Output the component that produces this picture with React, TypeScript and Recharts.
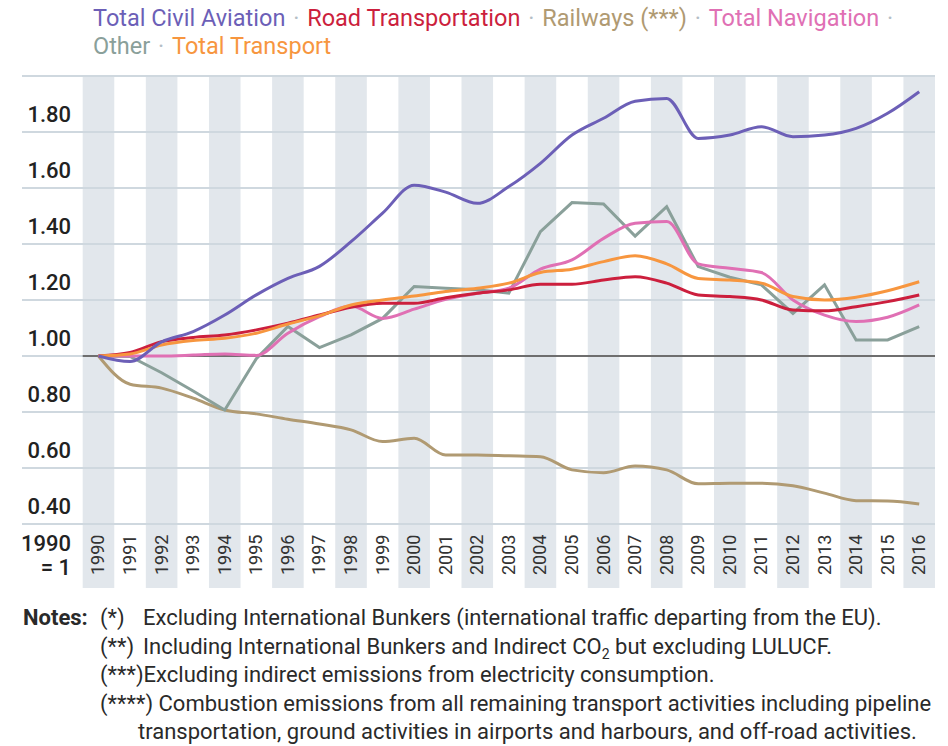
import { LineChart, Line, XAxis, YAxis, ReferenceArea, ReferenceLine } from 'recharts';

const years = [
  1990, 1991, 1992, 1993, 1994, 1995, 1996, 1997, 1998, 1999, 2000, 2001, 2002, 2003,
  2004, 2005, 2006, 2007, 2008, 2009, 2010, 2011, 2012, 2013, 2014, 2015, 2016,
];
const shadedYears = [1990, 1992, 1994, 1996, 1998, 2000, 2002, 2004, 2006, 2008, 2010, 2012, 2014, 2016];
const valueTicks = [0.4, 0.6, 0.8, 1.0, 1.2, 1.4, 1.6, 1.8];
const gridValues = [0.4, 0.6, 0.8, 1.0, 1.2, 1.4, 1.6, 1.8, 2.0];

const aviation = [1.0, 0.98, 1.05, 1.087, 1.146, 1.218, 1.277, 1.32, 1.408, 1.51, 1.61, 1.585, 1.545, 1.605, 1.688, 1.789, 1.849, 1.91, 1.92, 1.777, 1.789, 1.819, 1.783, 1.789, 1.813, 1.867, 1.944];
const road = [1.0, 1.012, 1.051, 1.066, 1.075, 1.093, 1.117, 1.146, 1.174, 1.188, 1.188, 1.208, 1.224, 1.236, 1.256, 1.256, 1.271, 1.283, 1.26, 1.218, 1.212, 1.2, 1.164, 1.161, 1.176, 1.194, 1.218];
const railways = [1.0, 0.899, 0.885, 0.849, 0.807, 0.793, 0.774, 0.757, 0.736, 0.694, 0.706, 0.646, 0.646, 0.643, 0.64, 0.593, 0.583, 0.607, 0.593, 0.543, 0.545, 0.545, 0.536, 0.51, 0.483, 0.482, 0.471];
const navigation = [1.0, 1.0, 1.0, 1.003, 1.007, 1.002, 1.081, 1.14, 1.178, 1.134, 1.167, 1.202, 1.224, 1.242, 1.31, 1.343, 1.42, 1.474, 1.48, 1.329, 1.313, 1.298, 1.2, 1.146, 1.123, 1.138, 1.182];
const other = [1.0, 0.998, 0.94, 0.875, 0.807, 0.99, 1.105, 1.03, 1.075, 1.134, 1.248, 1.242, 1.236, 1.224, 1.444, 1.548, 1.543, 1.428, 1.533, 1.319, 1.281, 1.254, 1.152, 1.254, 1.057, 1.057, 1.105];
const transport = [1.0, 1.007, 1.039, 1.055, 1.063, 1.081, 1.114, 1.143, 1.182, 1.2, 1.214, 1.23, 1.242, 1.26, 1.298, 1.31, 1.337, 1.358, 1.329, 1.277, 1.271, 1.26, 1.212, 1.2, 1.21, 1.233, 1.265];

const rows = years.map((year, i) => ({
  year,
  aviation: aviation[i],
  road: road[i],
  railways: railways[i],
  navigation: navigation[i],
  other: other[i],
  transport: transport[i],
}));

const COLORS = {
  aviation: '#6c5fb7',
  road: '#cc1f3d',
  railways: '#b09a72',
  navigation: '#e070b4',
  other: '#8aa09a',
  transport: '#f7963f',
};

const FONT = 'Roboto, "Open Sans", sans-serif';

function ValueTick({ x, y, payload }: any) {
  return (
    <text x={x + 49} y={y - 10} textAnchor="end" fontSize={22} fontWeight={500} fill="#222" fontFamily={FONT}>
      {Number(payload.value).toFixed(2)}
    </text>
  );
}

function YearTick({ x, y, payload }: any) {
  return (
    <text
      transform={`translate(${x + 6}, ${y - 13}) rotate(-90)`}
      textAnchor="start"
      fontSize={18}
      fill="#333"
      fontFamily={FONT}
    >
      {payload.value}
    </text>
  );
}

const sep = <span style={{ color: '#b4bec6', padding: '0 2px' }}> · </span>;

export default function App() {
  return (
    <div style={{ position: 'absolute', left: 0, top: 0, width: 948, height: 746, background: '#fff', fontFamily: FONT }}>
      <div style={{ position: 'absolute', left: 93, top: 4, fontSize: 23.5, lineHeight: '28px', whiteSpace: 'nowrap' }}>
        <div>
          <span style={{ color: COLORS.aviation }}>Total Civil Aviation</span>
          {sep}
          <span style={{ color: COLORS.road }}>Road Transportation</span>
          {sep}
          <span style={{ color: COLORS.railways }}>Railways (***)</span>
          {sep}
          <span style={{ color: COLORS.navigation }}>Total Navigation</span>
          {sep}
        </div>
        <div>
          <span style={{ color: COLORS.other }}>Other</span>
          {sep}
          <span style={{ color: COLORS.transport }}>Total Transport</span>
        </div>
      </div>

      <LineChart width={948} height={746} data={rows} margin={{ top: 76, right: 13, bottom: 157, left: 21 }}>
        <XAxis
          dataKey="year"
          type="number"
          domain={[1987.577, 2016.5]}
          ticks={years}
          interval={0}
          height={1}
          tickSize={0}
          tickMargin={0}
          axisLine={false}
          tickLine={false}
          tick={(props: any) => <YearTick {...props} />}
        />
        <YAxis
          type="number"
          domain={[0.171, 2.0]}
          ticks={valueTicks}
          interval={0}
          width={1}
          tickSize={0}
          tickMargin={0}
          axisLine={false}
          tickLine={false}
          tick={(props: any) => <ValueTick {...props} />}
        />
        {shadedYears.map((yr) => (
          <ReferenceArea key={yr} x1={yr - 0.5} x2={yr + 0.5} fill="#e2e7ec" fillOpacity={1} stroke="none" />
        ))}
        {gridValues.map((v) => (
          <ReferenceLine key={v} y={v} stroke="#cfd8df" strokeWidth={2} />
        ))}
        <ReferenceLine
          segment={[
            { x: 1989.5, y: 1 },
            { x: 2016.5, y: 1 },
          ]}
          stroke="#6e6e6e"
          strokeWidth={2}
        />
        <Line type="monotone" dataKey="railways" stroke={COLORS.railways} strokeWidth={3} dot={false} isAnimationActive={false} />
        <Line type="linear" dataKey="other" stroke={COLORS.other} strokeWidth={3} dot={false} isAnimationActive={false} />
        <Line type="monotone" dataKey="navigation" stroke={COLORS.navigation} strokeWidth={3} dot={false} isAnimationActive={false} />
        <Line type="monotone" dataKey="road" stroke={COLORS.road} strokeWidth={3} dot={false} isAnimationActive={false} />
        <Line type="monotone" dataKey="transport" stroke={COLORS.transport} strokeWidth={3} dot={false} isAnimationActive={false} />
        <Line type="monotone" dataKey="aviation" stroke={COLORS.aviation} strokeWidth={3} dot={false} isAnimationActive={false} />
      </LineChart>

      <div style={{ position: 'absolute', left: 0, top: 532, width: 71, textAlign: 'right', fontSize: 22, fontWeight: 500, lineHeight: '24px', color: '#222' }}>
        <div>1990</div>
        <div>= 1</div>
      </div>

      <div style={{ position: 'absolute', left: 23, top: 604, fontSize: 22, lineHeight: '28.6px', color: '#2a2a2a', whiteSpace: 'nowrap' }}>
        <div>
          <span style={{ fontWeight: 700, display: 'inline-block', width: 77 }}>Notes:</span>
          <span style={{ display: 'inline-block', width: 43 }}>(*)</span>
          Excluding International Bunkers (international traffic departing from the EU).
        </div>
        <div style={{ paddingLeft: 77 }}>
          <span style={{ display: 'inline-block', width: 43 }}>(**)</span>
          Including International Bunkers and Indirect CO<sub style={{ fontSize: 14, lineHeight: 0 }}>2</sub> but excluding LULUCF.
        </div>
        <div style={{ paddingLeft: 77 }}>(***)Excluding indirect emissions from electricity consumption.</div>
        <div style={{ paddingLeft: 77 }}>(****) Combustion emissions from all remaining transport activities including pipeline</div>
        <div style={{ paddingLeft: 115 }}>transportation, ground activities in airports and harbours, and off-road activities.</div>
      </div>
    </div>
  );
}
